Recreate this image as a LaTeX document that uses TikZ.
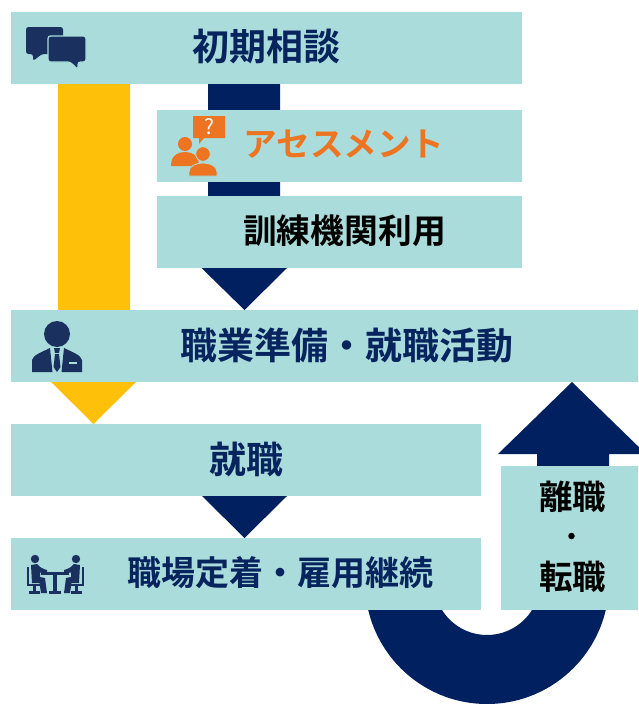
\documentclass[tikz,border=0pt]{standalone}
\usepackage{fontspec}
\setmainfont{Noto Sans CJK JP}[BoldFont={Noto Sans CJK JP Bold}]
\usetikzlibrary{backgrounds}
\definecolor{boxteal}{HTML}{A9DCDA}
\definecolor{navyarrow}{HTML}{002060}
\definecolor{navytext}{HTML}{07245F}
\definecolor{iconnavy}{HTML}{1A3160}
\definecolor{amber}{HTML}{FFC00A}
\definecolor{iconorange}{HTML}{ED7420}
\tikzset{
  x=1pt,y=-1pt,
  box/.style={fill=boxteal,inner sep=0pt,outer sep=0pt,anchor=north west},
  lbl/.style={inner sep=0pt,font=\bfseries\fontsize{#1}{#1}\selectfont,text=navytext},
  gap/.style={draw=boxteal,line width=1.2pt},
  tlimb/.style={draw=iconnavy,line width=2.6pt,line cap=butt},
}
\begin{document}
\begin{tikzpicture}
\useasboundingbox (0,0) rectangle (638,704);
\clip (0,0) rectangle (638,704);
% boxes
\node[box,minimum width=511pt,minimum height=72pt] (soudan) at (11,12) {};
\node[box,minimum width=365pt,minimum height=72pt] (assess) at (157,110) {};
\node[box,minimum width=365pt,minimum height=72pt] (kunren) at (157,196) {};
\node[box,minimum width=627pt,minimum height=72pt] (junbi) at (11,310) {};
\node[box,minimum width=470pt,minimum height=72pt] (shoku) at (11,424) {};
\node[box,minimum width=470pt,minimum height=72pt] (teichaku) at (11,538) {};
\node[box,minimum width=137pt,minimum height=144pt] (rishoku) at (501,466) {};
% block arrows behind the boxes
\begin{scope}[on background layer]
\fill[white] (0,0) rectangle (638,704);
\fill[amber] (58,0 |- soudan.south) -- (130,0 |- soudan.south) -- (130,0 |- junbi.south) -- (136,0 |- junbi.south) -- (93.5,0 |- shoku.north) -- (51,0 |- junbi.south) -- (58,0 |- junbi.south) -- cycle;
\fill[navyarrow] (208,0 |- soudan.south) -- (280,0 |- soudan.south) -- (280,0 |- kunren.south) -- (287,0 |- kunren.south) -- (244.5,0 |- junbi.north) -- (201.5,0 |- kunren.south) -- (208,0 |- kunren.south) -- cycle;
\fill[navyarrow] (202,0 |- shoku.south) -- (287,0 |- shoku.south) -- (244.5,0 |- teichaku.north) -- cycle;
\fill[navyarrow] (537,0 |- rishoku.north) -- (537,454) -- (498,454) -- (572,0 |- junbi.south) -- (646,454) -- (609,454) -- (609,0 |- rishoku.north) -- cycle;
\begin{scope}
\clip (340,600) rectangle (638,704);
\fill[navyarrow,even odd rule] (487,582) circle[radius=122] (487,582) circle[radius=53];
\end{scope}
\end{scope}
% labels
\node[lbl=37] (t1) at (266.5,46) {初期相談};
\node[lbl=33.6,text=iconorange] (t2) at (344,144) {アセスメント};
\node[lbl=33.8,text=black] (t3) at (344.5,231) {訓練機関利用};
\node[lbl=37] (t4) at (347,345) {職業準備・就職活動};
\node[lbl=37] (t5) at (246,459) {就職};
\node[lbl=34] (t6) at (280,573) {職場定着・雇用継続};
\node[lbl=33.5,text=black] (t7) at (572.5,497) {離職};
\node[circle,fill=black,inner sep=0pt,minimum size=6.5pt] (t8) at (571.5,536) {};
\node[lbl=33.5,text=black] (t9) at (572.5,577) {転職};
% chat icon
\fill[iconnavy,rounded corners=2.5pt] (26,27) -- (63,27) -- (63,54) -- (42,54) -- (33,61) -- (33,54) -- (26,54) -- cycle;
\filldraw[fill=iconnavy,gap,rounded corners=2.5pt] (48,36) -- (86,36) -- (86,62) -- (78,62) -- (78,69.5) -- (70,62) -- (48,62) -- cycle;
% assessment icon
\fill[iconorange] (193,116) -- (225,116) -- (225,138) -- (204,138) -- (199,144) -- (199,138) -- (193,138) -- cycle;
\node[inner sep=0pt,text=white,font=\fontsize{21}{21}\selectfont] (qm) at (209,127) {?};
\fill[iconorange] (185,144) circle[radius=7];
\fill[iconorange] (171,166) .. controls (171,155) and (178,152) .. (185,152) .. controls (192,152) and (199,155) .. (199,166) -- cycle;
\filldraw[fill=iconorange,gap,line width=0.8pt] (203,154) circle[radius=7.3];
\filldraw[fill=iconorange,gap,line width=0.8pt] (189,176) -- (189,172) .. controls (189,166) and (196,163) .. (203,163) .. controls (210,163) and (217,166) .. (217,172) -- (217,176) -- cycle;
% businessman icon
\fill[iconnavy] (57,334) circle[radius=13];
\fill[iconnavy] (32,372) -- (32,360) .. controls (33,355) and (42,352) .. (50,348) -- (52.5,372) -- cycle;
\fill[iconnavy] (82,372) -- (82,360) .. controls (81,355) and (72,352) .. (64,348) -- (61.5,372) -- cycle;
\fill[iconnavy] (54,348) -- (60,348) -- (59,353) -- (55,353) -- cycle;
\fill[iconnavy] (55,354) -- (59,354) -- (60.5,367) -- (57,372) -- (53.5,367) -- cycle;
\fill[boxteal] (69,362) rectangle (76.5,363.5);
% meeting icon
\fill[iconnavy] (35,559) circle[radius=4.2];
\fill[iconnavy] (76,559) circle[radius=4.2];
\fill[iconnavy] (31,565) -- (37,564) .. controls (39,566) and (40,568) .. (47,570) -- (47,573) -- (40,572.5) -- (40,577) -- (45,578) -- (47,593) -- (41,593) -- (39.5,583) -- (32,583) -- cycle;
\fill[iconnavy] (80,565) -- (74,564) .. controls (72,566) and (71,568) .. (64,570) -- (64,573) -- (71,572.5) -- (71,577) -- (66,578) -- (64,593) -- (70,593) -- (71.5,583) -- (79,583) -- cycle;
\draw[tlimb] (41,573.5) -- (69,573.5);
\draw[tlimb,line width=3.4pt] (55,573.5) -- (55,592);
\draw[tlimb] (49,592.5) -- (61,592.5);
\draw[tlimb,line width=1.8pt] (28,567) -- (28,585) -- (41,585);
\draw[tlimb] (34.5,585) -- (34.5,592);
\draw[tlimb] (29,592.5) -- (40,592.5);
\draw[tlimb,line width=1.8pt] (83,567) -- (83,585) -- (70,585);
\draw[tlimb] (76.5,585) -- (76.5,592);
\draw[tlimb] (71,592.5) -- (82,592.5);
\end{tikzpicture}
\end{document}
